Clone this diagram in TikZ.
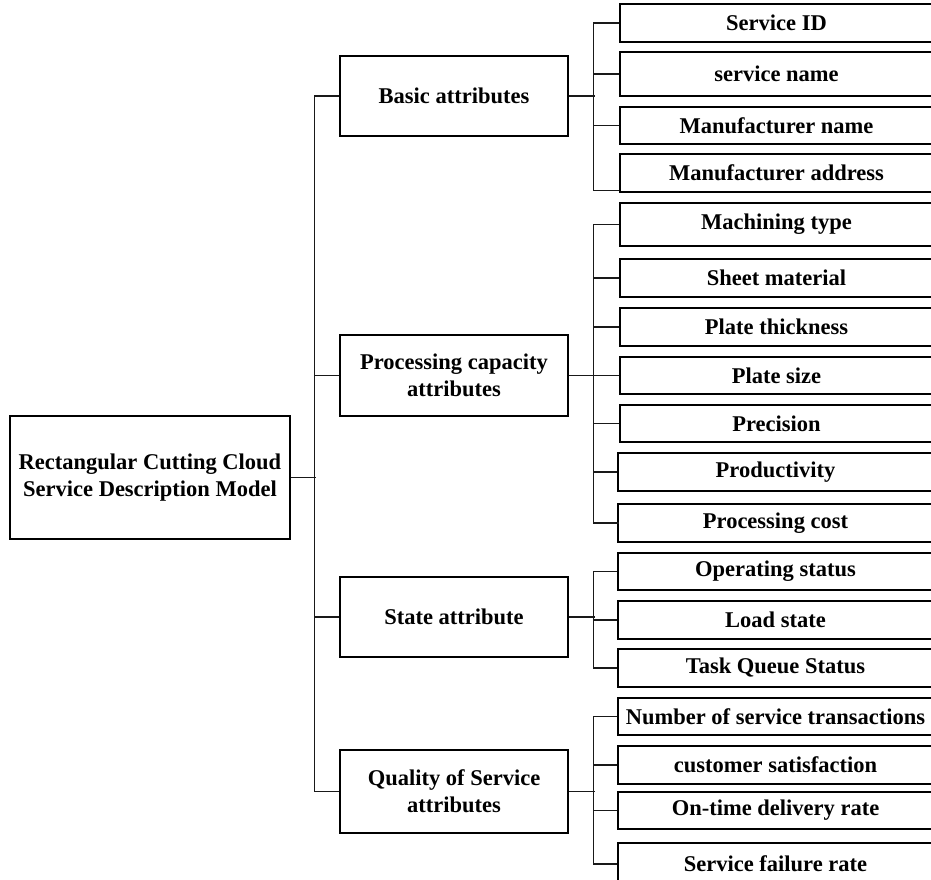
\documentclass[tikz,border=0pt]{standalone}
\usepackage{fontspec}
\setmainfont{Liberation Serif}
\begin{document}
\begin{tikzpicture}[x=1pt,y=-1pt,
  box/.style={draw=black, line width=1.2pt, align=center, inner sep=0pt,
    font=\bfseries\fontsize{22.5}{27}\selectfont},
  link/.style={draw=black!90, line width=1.3pt}]
\useasboundingbox (0,0) rectangle (931,879);
\clip (0,0) rectangle (931,879);
\newcommand\mkbox[6]{\node[box, minimum width={#4-#2}, minimum height={#5-#3}] (#1) at ({(#2+#4)/2},{(#3+#5)/2}) {#6};}
% root
\mkbox{root}{10}{416}{290}{539}{Rectangular Cutting Cloud\\Service Description Model}
% level 1
\mkbox{basic}{340}{56}{568}{136}{Basic attributes}
\mkbox{proc}{340}{335}{568}{416}{Processing capacity\\attributes}
\mkbox{state}{340}{577}{568}{657}{State attribute}
\mkbox{qual}{340}{750}{568}{833}{Quality of Service\\attributes}
% leaves: basic
\mkbox{sid}{620}{4}{933}{42}{Service ID}
\mkbox{sname}{620}{52}{933}{96}{service name}
\mkbox{mname}{620}{107}{933}{144}{Manufacturer name}
\mkbox{maddr}{620}{154}{933}{192}{Manufacturer address}
% leaves: processing
\mkbox{mtype}{620}{203}{933}{246}{Machining type}
\mkbox{sheet}{620}{259}{933}{297}{Sheet material}
\mkbox{thick}{620}{308}{933}{346}{Plate thickness}
\mkbox{psize}{620}{357}{933}{394}{Plate size}
\mkbox{prec}{620}{405}{933}{442}{Precision}
\mkbox{prod}{618}{453}{933}{491}{Productivity}
\mkbox{cost}{618}{504}{933}{542}{Processing cost}
% leaves: state
\mkbox{opstat}{618}{553}{933}{590}{Operating status}
\mkbox{load}{618}{601}{933}{639}{Load state}
\mkbox{task}{618}{649}{933}{687}{Task Queue Status}
% leaves: quality
\mkbox{num}{618}{698}{933}{735}{Number of service transactions}
\mkbox{cust}{618}{746}{933}{784}{customer satisfaction}
\mkbox{ontime}{618}{792}{933}{829}{On-time delivery rate}
\mkbox{fail}{618}{843}{933}{885}{Service failure rate}
% main trunk
\draw[link] (root.east) -- ++(25,0);
\draw[link] (basic.west) -- ++(-25,0) |- (qual.west);
\draw[link] (proc.west) -- ++(-25,0);
\draw[link] (state.west) -- ++(-25,0);
% basic group
\coordinate (maddrc) at ([yshift=2pt]maddr.south west);
\draw[link] (basic.east) -- ++(26,0);
\draw[link] (sid.west) -- ++(-26,0) |- (maddrc);
\draw[link] (sname.west) -- ++(-26,0);
\draw[link] (mname.west) -- ++(-26,0);
% processing group
\draw[link] (proc.east) -- ++(26,0);
\draw[link] (mtype.west) -- ++(-26,0) |- ([xshift=2pt]cost.west);
\draw[link] (sheet.west) -- ++(-26,0);
\draw[link] (thick.west) -- ++(-26,0);
\draw[link] (psize.west) -- ++(-26,0);
\draw[link] (prec.west) -- ++(-26,0);
\draw[link] (prod.west) -- ++(-24,0);
% state group
\draw[link] (state.east) -- ++(26,0);
\draw[link] (opstat.west) -- ++(-24,0) |- (task.west);
\draw[link] (load.west) -- ++(-24,0);
% quality group
\draw[link] (qual.east) -- ++(26,0);
\draw[link] (num.west) -- ++(-24,0) |- (fail.west);
\draw[link] (cust.west) -- ++(-24,0);
\draw[link] (ontime.west) -- ++(-24,0);
\end{tikzpicture}
\end{document}
